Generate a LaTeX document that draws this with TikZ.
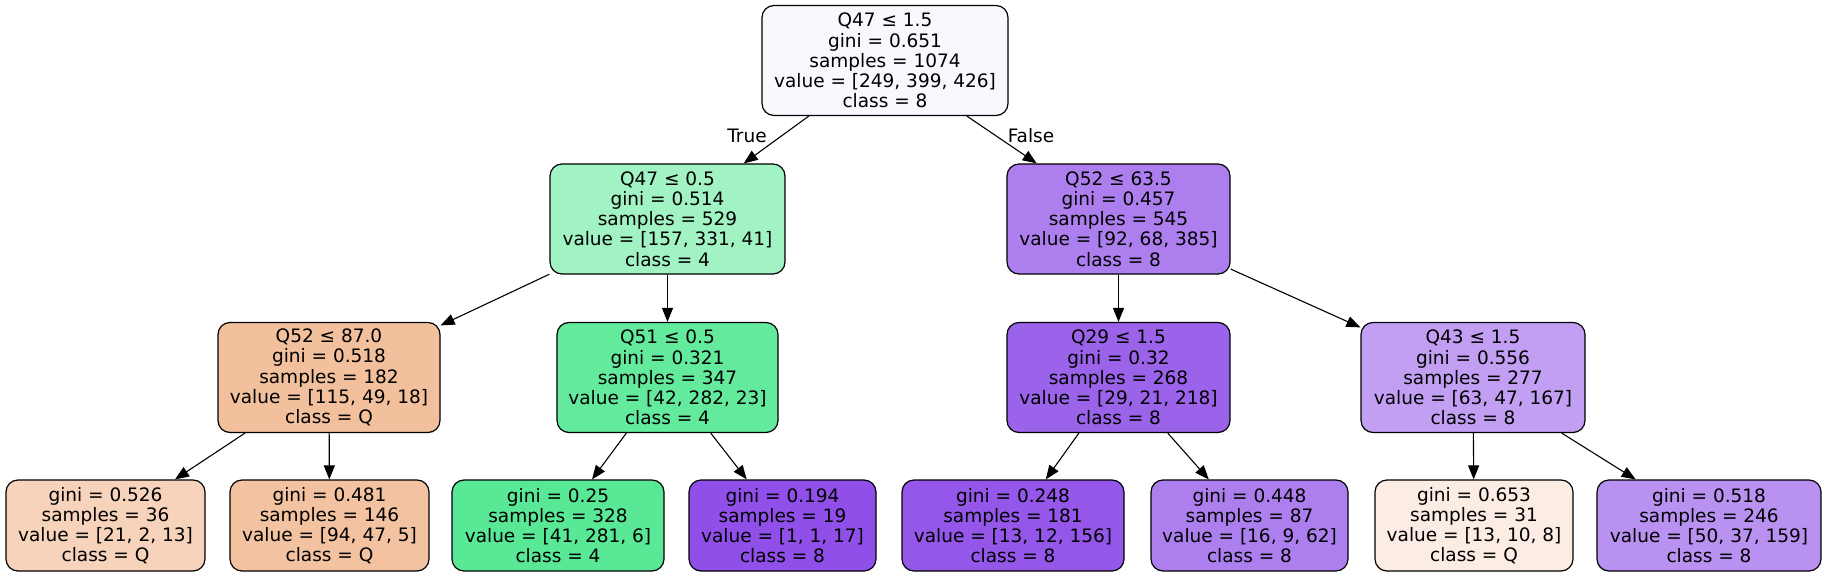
\documentclass[tikz,border=0pt]{standalone}
\usepackage{fontspec}
\setmainfont{DejaVu Sans}
\usetikzlibrary{arrows.meta}

% fill colours of the tree nodes
\definecolor{croot}{RGB}{250,247,254}
\definecolor{cqa}{RGB}{162,243,196}
\definecolor{cqb}{RGB}{173,127,238}
\definecolor{cqc}{RGB}{242,192,157}
\definecolor{cqd}{RGB}{99,234,156}
\definecolor{cqe}{RGB}{155,98,234}
\definecolor{cqf}{RGB}{194,159,242}
\definecolor{cla}{RGB}{246,211,186}
\definecolor{clb}{RGB}{243,195,161}
\definecolor{clc}{RGB}{89,233,150}
\definecolor{cld}{RGB}{143,79,232}
\definecolor{cle}{RGB}{148,87,233}
\definecolor{clf}{RGB}{173,127,238}
\definecolor{clg}{RGB}{251,237,227}
\definecolor{clh}{RGB}{185,145,241}

\begin{document}
\begin{tikzpicture}[x=1pt, y=-1pt,
    tnode/.style={draw, rounded corners=12pt, line width=1.2pt, align=center,
      inner sep=0pt, minimum height=110pt, font=\fontsize{18.5}{20.2}\selectfont},
    leaf/.style={tnode, minimum height=91pt},
    edge/.style={line width=1.1pt, -{Triangle[length=14pt,width=11pt]}},
    elabel/.style={font=\fontsize{18.5}{20.2}\selectfont}
  ]
    \useasboundingbox (0,0) rectangle (1827,577);

    % level 0 and 1
    \node[tnode, fill=croot, minimum width=246pt] (root) at (885,60.5)
      {Q47 ≤ 1.5\\gini = 0.651\\samples = 1074\\value = [249, 399, 426]\\class = 8};
    \node[tnode, fill=cqa, minimum width=235pt] (q47) at (667.5,219)
      {Q47 ≤ 0.5\\gini = 0.514\\samples = 529\\value = [157, 331, 41]\\class = 4};
    \node[tnode, fill=cqb, minimum width=223pt] (q52) at (1118.5,219)
      {Q52 ≤ 63.5\\gini = 0.457\\samples = 545\\value = [92, 68, 385]\\class = 8};

    % level 2
    \node[tnode, fill=cqc, minimum width=222pt] (q52b) at (329,377.5)
      {Q52 ≤ 87.0\\gini = 0.518\\samples = 182\\value = [115, 49, 18]\\class = Q};
    \node[tnode, fill=cqd, minimum width=221pt] (q51) at (667.5,377.5)
      {Q51 ≤ 0.5\\gini = 0.321\\samples = 347\\value = [42, 282, 23]\\class = 4};
    \node[tnode, fill=cqe, minimum width=223pt] (q29) at (1118.5,377.5)
      {Q29 ≤ 1.5\\gini = 0.32\\samples = 268\\value = [29, 21, 218]\\class = 8};
    \node[tnode, fill=cqf, minimum width=224pt] (q43) at (1473,377.5)
      {Q43 ≤ 1.5\\gini = 0.556\\samples = 277\\value = [63, 47, 167]\\class = 8};

    % leaves
    \node[leaf, fill=cla, minimum width=199pt] (la) at (105.5,525.5)
      {gini = 0.526\\samples = 36\\value = [21, 2, 13]\\class = Q};
    \node[leaf, fill=clb, minimum width=199pt] (lb) at (329.5,525.5)
      {gini = 0.481\\samples = 146\\value = [94, 47, 5]\\class = Q};
    \node[leaf, fill=clc, minimum width=212pt] (lc) at (558,525.5)
      {gini = 0.25\\samples = 328\\value = [41, 281, 6]\\class = 4};
    \node[leaf, fill=cld, minimum width=187pt] (ld) at (782.5,525.5)
      {gini = 0.194\\samples = 19\\value = [1, 1, 17]\\class = 8};
    \node[leaf, fill=cle, minimum width=222pt] (le) at (1013,525.5)
      {gini = 0.248\\samples = 181\\value = [13, 12, 156]\\class = 8};
    \node[leaf, fill=clf, minimum width=197pt] (lf) at (1249.5,525.5)
      {gini = 0.448\\samples = 87\\value = [16, 9, 62]\\class = 8};
    \node[leaf, fill=clg, minimum width=198pt] (lg) at (1474,525.5)
      {gini = 0.653\\samples = 31\\value = [13, 10, 8]\\class = Q};
    \node[leaf, fill=clh, minimum width=224pt] (lh) at (1709,525.5)
      {gini = 0.518\\samples = 246\\value = [50, 37, 159]\\class = 8};

    % edges
    \draw[edge] (root) -- (q47);
    \draw[edge] (root) -- (q52);
    \node[elabel] (ltrue) at (747,136) {True};
    \node[elabel] (lfalse) at (1031,136) {False};

    \draw[edge] (q47) -- (q52b);
    \draw[edge] (q47) -- (q51);
    \draw[edge] (q52) -- (q29);
    \draw[edge] (q52) -- (q43);

    \draw[edge] (q52b) -- (la);
    \draw[edge] (q52b) -- (lb);
    \draw[edge] (q51) -- (lc);
    \draw[edge] (q51) -- (ld);
    \draw[edge] (q29) -- (le);
    \draw[edge] (q29) -- (lf);
    \draw[edge] (q43) -- (lg);
    \draw[edge] (q43) -- (lh);
  \end{tikzpicture}
\end{document}
